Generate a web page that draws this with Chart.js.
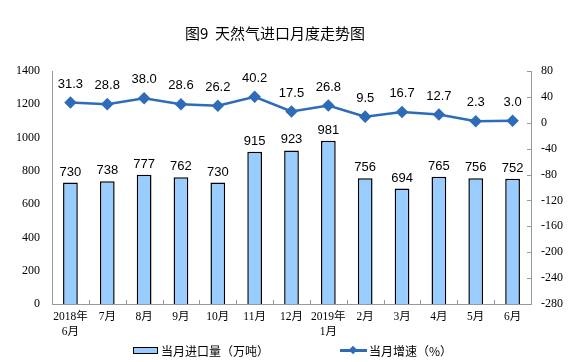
<!DOCTYPE html>
<html lang="zh">
<head>
<meta charset="UTF-8">
<title>天然气进口月度走势图</title>
<script src="https://cdn.jsdelivr.net/npm/chart.js"></script>
<style>
    body { margin: 0; background: #fff; font-family: "Noto Sans CJK SC", sans-serif; }
    .wrap { position: relative; width: 585px; height: 362px; }
    .title { position: absolute; left: 0; width: 550px; top: 22px; text-align: center; font-size: 15px; color: #000; }
    .legend { position: absolute; top: 342px; font-size: 12px; color: #000; display: flex; align-items: center; }
    .swatch-bar { width: 23px; height: 5px; background: #99ccff; border: 1px solid #000; margin-right: 3px; }
    .swatch-line { position: relative; width: 27px; height: 3px; background: #2e6bb8; margin-right: 2px; }
    .swatch-line::after { content: ""; position: absolute; left: 10px; top: -2.5px; width: 6px; height: 6px; background: #2e6bb8; transform: rotate(45deg); }
    canvas { position: absolute; left: 0; top: 0; }
</style>
</head>
<body>
<div class="wrap">
    <canvas id="chart" width="585" height="362"></canvas>
    <div class="title">图9&nbsp;&nbsp;天然气进口月度走势图</div>
    <div class="legend" style="left:133px;"><span class="swatch-bar"></span>当月进口量（万吨）</div>
    <div class="legend" style="left:340px;"><span class="swatch-line"></span>当月增速（%）</div>
</div>
<script>
const months = [['2018年', '6月'], '7月', '8月', '9月', '10月', '11月', '12月', ['2019年', '1月'], '2月', '3月', '4月', '5月', '6月'];
const importVolume = [730, 738, 777, 762, 730, 915, 923, 981, 756, 694, 765, 756, 752];
const growthRate = [31.3, 28.8, 38.0, 28.6, 26.2, 40.2, 17.5, 26.8, 9.5, 16.7, 12.7, 2.3, 3.0];

const serif = '"Liberation Serif", "Times New Roman", serif';

// values above bars and points, plus small inward tick marks
const extras = {
    id: 'extras',
    afterDatasetsDraw(chart) {
        const ctx = chart.ctx;
        const area = chart.chartArea;
        ctx.save();
        ctx.strokeStyle = '#999';
        ctx.lineWidth = 1;
        ctx.beginPath();
        const y2 = chart.scales.y2;
        y2.ticks.forEach(t => {
            const py = Math.round(y2.getPixelForValue(t.value)) + 0.5;
            ctx.moveTo(area.right - 4, py);
            ctx.lineTo(area.right, py);
        });
        const x = chart.scales.x;
        for (let i = 1; i < months.length; i++) {
            const px = Math.round((x.getPixelForValue(i - 1) + x.getPixelForValue(i)) / 2) + 0.5;
            ctx.moveTo(px, area.bottom);
            ctx.lineTo(px, area.bottom - 4);
        }
        ctx.stroke();

        ctx.font = '13px "Liberation Sans", Arial, sans-serif';
        ctx.fillStyle = '#000';
        ctx.textAlign = 'center';
        ctx.textBaseline = 'bottom';
        chart.getDatasetMeta(1).data.forEach((el, i) => {
            ctx.fillText(String(importVolume[i]), el.x, el.y - 4);
        });
        chart.getDatasetMeta(0).data.forEach((el, i) => {
            ctx.fillText(growthRate[i].toFixed(1), el.x, el.y - 12);
        });
        ctx.restore();
    }
};

new Chart(document.getElementById('chart'), {
    data: {
        labels: months,
        datasets: [{
            type: 'line',
            label: '当月增速（%）',
            data: growthRate,
            yAxisID: 'y2',
            borderColor: '#2e6bb8',
            backgroundColor: '#2e6bb8',
            borderWidth: 2.5,
            pointStyle: 'rectRot',
            pointRadius: 4.5,
            pointHoverRadius: 4.5,
            tension: 0,
            order: 0
        }, {
            type: 'bar',
            label: '当月进口量（万吨）',
            data: importVolume,
            yAxisID: 'y',
            backgroundColor: '#99ccff',
            borderColor: '#000',
            borderWidth: 1.5,
            barPercentage: 0.4,
            categoryPercentage: 1,
            order: 1
        }]
    },
    options: {
        responsive: false,
        animation: false,
        layout: { padding: { top: 71, left: 0, right: 0, bottom: 0 } },
        plugins: { legend: { display: false }, tooltip: { enabled: false } },
        scales: {
            x: {
                grid: { display: false, drawTicks: false },
                border: { color: '#999', width: 1 },
                ticks: {
                    color: '#000',
                    padding: 6,
                    maxRotation: 0,
                    autoSkip: false,
                    font: { family: serif + ', "Noto Sans CJK SC"', size: 11.5, lineHeight: 1.3 }
                },
                afterFit(scale) { scale.height = 58; }
            },
            y: {
                position: 'left',
                min: 0,
                max: 1400,
                grid: { display: false, drawTicks: false },
                border: { color: '#999', width: 1 },
                ticks: {
                    stepSize: 200,
                    color: '#000',
                    padding: 12,
                    callback: v => String(v),
                    font: { family: serif, size: 12 }
                },
                afterFit(scale) { scale.width = 52; }
            },
            y2: {
                position: 'right',
                min: -280,
                max: 80,
                grid: { display: false, drawTicks: false },
                border: { color: '#999', width: 1 },
                ticks: {
                    stepSize: 40,
                    color: '#000',
                    padding: 10,
                    callback: v => String(v),
                    font: { family: serif, size: 12 }
                },
                afterFit(scale) { scale.width = 54; }
            }
        }
    },
    plugins: [extras]
});
</script>
</body>
</html>
